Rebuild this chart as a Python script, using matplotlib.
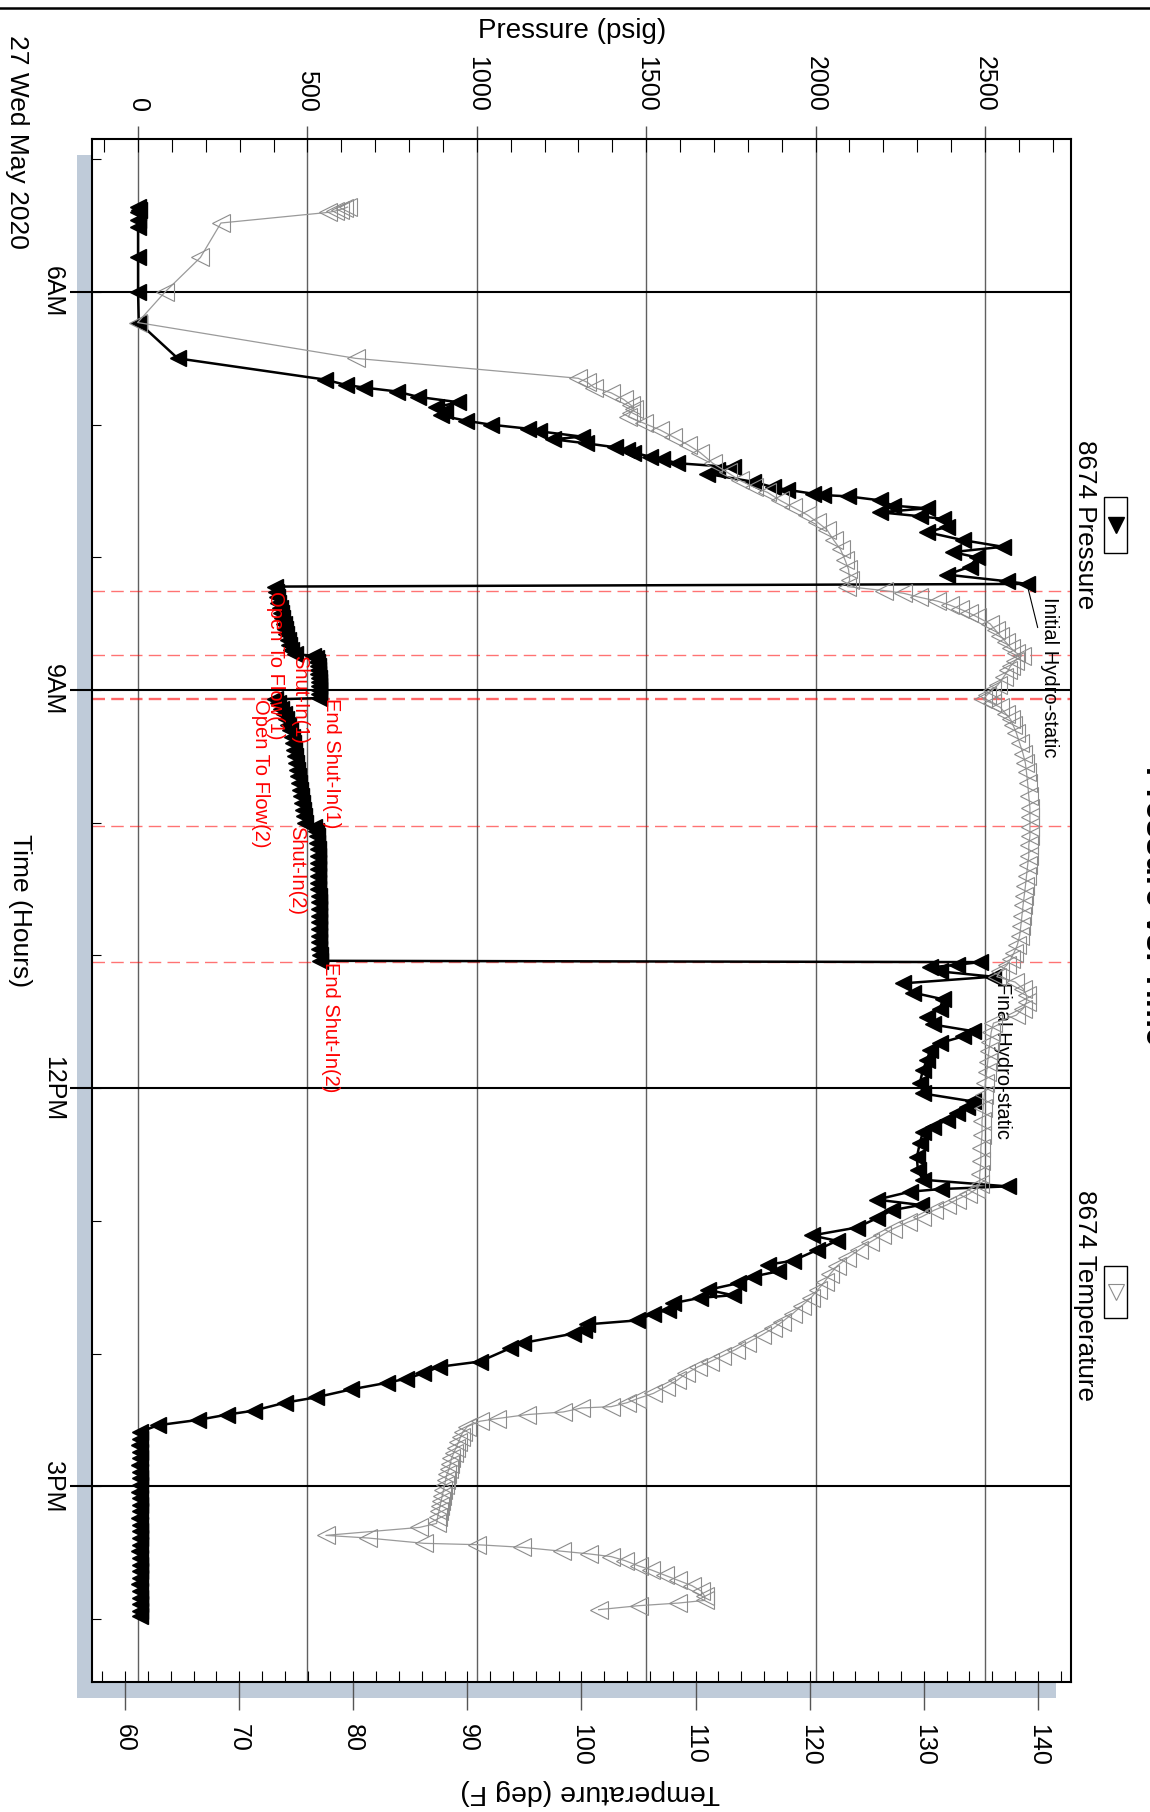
#!/usr/bin/env python3

import matplotlib
matplotlib.use("Agg")
import matplotlib.pyplot as plt
from matplotlib.patches import Rectangle
from matplotlib.lines import Line2D
from matplotlib.ticker import MultipleLocator

plt.rcParams['font.family'] = ['Liberation Sans', 'DejaVu Sans']

# gauge 8674, 27 May 2020 -- time in hours of the day
press_hours = [5.36, 5.38, 5.40, 5.46, 5.51, 5.74, 6.00, 6.23, 6.50,
               6.66, 6.70, 6.72, 6.75, 6.79, 6.83, 6.87, 6.90, 6.93, 6.97,
               7.00, 7.03, 7.05, 7.09, 7.11, 7.14, 7.17, 7.19, 7.21, 7.24,
               7.26, 7.29, 7.32, 7.34, 7.37, 7.43, 7.47, 7.49, 7.52, 7.53,
               7.54, 7.57, 7.61, 7.63, 7.66, 7.69, 7.71, 7.77, 7.81, 7.87,
               7.92, 7.96, 8.00, 8.07, 8.13, 8.18, 8.20,
               8.22, 8.26, 8.30, 8.34, 8.38, 8.42, 8.46, 8.50, 8.54, 8.58,
               8.62, 8.66, 8.70, 8.73,
               8.74, 8.76, 8.79, 8.82, 8.85, 8.88, 8.91, 8.94, 8.97, 9.00,
               9.03, 9.06,
               9.07, 9.10, 9.14, 9.18, 9.22, 9.26, 9.30, 9.35, 9.40, 9.45,
               9.50, 9.55, 9.60, 9.65, 9.70, 9.75, 9.80, 9.85, 9.90, 9.95,
               10.00,
               10.03, 10.06, 10.10, 10.15, 10.20, 10.25, 10.30, 10.35, 10.40,
               10.45, 10.50, 10.55, 10.60, 10.65, 10.70, 10.75, 10.80, 10.85,
               10.90, 10.95, 11.00, 11.04,
               11.05, 11.07, 11.09, 11.12, 11.16, 11.21, 11.28, 11.33, 11.40,
               11.46, 11.52, 11.57, 11.61, 11.66, 11.71, 11.79, 11.86, 11.96,
               12.04, 12.10, 12.14, 12.19, 12.24, 12.29, 12.33, 12.41, 12.52,
               12.62, 12.69, 12.74, 12.76, 12.78, 12.84, 12.88, 12.92, 12.98,
               13.05, 13.11, 13.15, 13.22, 13.30, 13.33, 13.38, 13.42, 13.47,
               13.52, 13.56, 13.58, 13.62, 13.67, 13.70, 13.75, 13.78, 13.82,
               13.85, 13.92, 13.96, 14.06, 14.10, 14.15, 14.19, 14.22, 14.27,
               14.33, 14.37, 14.43, 14.46, 14.50, 14.54, 14.59,
               14.64, 14.69, 14.74, 14.79, 14.84, 14.89, 14.94, 14.99, 15.04,
               15.09, 15.14, 15.19, 15.24, 15.29, 15.34, 15.39, 15.44, 15.49,
               15.54, 15.59, 15.64, 15.69, 15.74, 15.79, 15.84, 15.89, 15.94,
               15.98]
press_psig = [0, 3, 0, 1, 0, 0, 0, 2, 117,
              552, 613, 667, 765, 826, 943, 880, 905, 895, 968,
              1042, 1151, 1185, 1310, 1225, 1322, 1408, 1443, 1461, 1511,
              1547, 1591, 1756, 1709, 1679, 1815, 1874, 1915, 1992, 2022,
              2096, 2190, 2228, 2329, 2190, 2308, 2376, 2388, 2329, 2435,
              2553, 2405, 2476, 2456, 2388, 2565, 2624,
              404, 406, 410, 414, 418, 422, 426, 430, 434, 438,
              442, 446, 451, 462,
              515, 524, 528, 530, 531, 532, 533, 533, 534, 534,
              535, 535,
              405, 413, 422, 430, 437, 443, 448, 453, 457, 461,
              464, 467, 470, 473, 476, 479, 482, 485, 488, 491,
              494,
              520, 526, 528, 529, 530, 530, 531, 531, 532,
              532, 532, 533, 533, 533, 534, 534, 534, 535,
              535, 535, 536, 536,
              2485, 2417, 2338, 2367, 2524, 2258, 2288, 2376, 2367,
              2330, 2346, 2464, 2435, 2367, 2338, 2329, 2317, 2308,
              2317, 2464, 2447, 2417, 2388, 2346, 2317, 2308, 2299,
              2302, 2317, 2567, 2370, 2279, 2181, 2310, 2225, 2181,
              2122, 1989, 2063, 2004, 1933, 1860, 1890, 1815, 1771,
              1682, 1756, 1659, 1580, 1564, 1520, 1473, 1325, 1316,
              1284, 1136, 1098, 1009, 888, 841, 790, 735, 629,
              525, 434, 342, 263, 177, 59, 6,
              5, 4, 6, 5, 4, 5, 6, 5, 4,
              5, 5, 6, 4, 5, 5, 6, 5, 4,
              5, 5, 6, 5, 4, 5, 5, 6, 5,
              5]

temp_hours = [5.36, 5.37, 5.38, 5.39, 5.40, 5.48, 5.74, 6.00, 6.23, 6.50,
              6.65, 6.68, 6.72, 6.76, 6.81, 6.85, 6.88, 6.91, 6.94, 6.99,
              7.04, 7.09, 7.15, 7.21, 7.29, 7.36, 7.42, 7.47, 7.51, 7.57,
              7.62, 7.68, 7.73, 7.79, 7.87, 7.94, 8.02, 8.09, 8.17, 8.22,
              8.25, 8.27, 8.30, 8.33, 8.36, 8.39, 8.42, 8.45, 8.50, 8.55,
              8.59, 8.64, 8.68, 8.72, 8.74, 8.78, 8.82, 8.85, 8.90, 8.96,
              9.00, 9.04, 9.07, 9.10, 9.13, 9.18, 9.22, 9.26, 9.32, 9.40,
              9.48, 9.55, 9.62, 9.70, 9.80, 9.89, 9.96, 10.03, 10.10, 10.17,
              10.25, 10.32, 10.40, 10.48, 10.55, 10.62, 10.70, 10.78, 10.85,
              10.92, 10.98, 11.03, 11.07, 11.12, 11.16, 11.20, 11.25, 11.30,
              11.35, 11.40, 11.45, 11.51, 11.58, 11.65, 11.72, 11.80, 11.88,
              11.96, 12.05, 12.15, 12.25, 12.35, 12.45, 12.55, 12.65, 12.72,
              12.76, 12.80, 12.84, 12.88, 12.92, 12.97, 13.01, 13.06, 13.11,
              13.16, 13.22, 13.28, 13.34, 13.40, 13.46, 13.52, 13.58, 13.64,
              13.70, 13.76, 13.81, 13.86, 13.92, 13.97, 14.02, 14.06, 14.10,
              14.15, 14.20, 14.25, 14.30, 14.34, 14.37, 14.40, 14.41, 14.44,
              14.46, 14.49, 14.51, 14.55, 14.59, 14.63, 14.67, 14.71, 14.75,
              14.79, 14.83, 14.87, 14.91, 14.95, 14.99, 15.03, 15.07, 15.11,
              15.15, 15.19, 15.23, 15.28, 15.31, 15.37, 15.39, 15.43, 15.44,
              15.46, 15.49, 15.51, 15.53, 15.56, 15.60, 15.63, 15.67, 15.71,
              15.75, 15.79, 15.83, 15.86, 15.88, 15.90, 15.93]
temp_degf = [79.5, 79.2, 78.8, 78.4, 77.8, 68.4, 66.6, 63.5, 61.1, 80.2,
             99.7, 100.5, 101.1, 102.6, 103.7, 104.3, 104.6, 104.3, 104.1, 105.5,
             106.9, 108.0, 109.3, 110.4, 111.5, 112.8, 113.9, 115.1, 116.3, 117.4,
             118.5, 119.8, 120.6, 121.5, 122.1, 122.7, 123.1, 123.4, 123.5, 123.3,
             126.5, 128.2, 129.6, 131.2, 132.3, 133.2, 134.0, 134.7, 135.8, 136.3,
             136.7, 137.2, 137.6, 138.1, 138.6, 138.0, 137.6, 137.4, 137.0, 136.5,
             136.0, 135.5, 135.2, 136.0, 136.7, 137.2, 137.6, 137.8, 138.1, 138.4,
             138.7, 138.9, 139.0, 139.1, 139.2, 139.3, 139.3, 139.3, 139.3, 139.2,
             139.2, 139.1, 139.0, 138.9, 138.8, 138.7, 138.6, 138.5, 138.4,
             138.2, 137.9, 137.6, 137.3, 136.7, 136.4, 138.0, 138.7, 139.0,
             139.0, 138.7, 138.1, 136.1, 135.9, 135.8, 135.7, 135.6, 135.5,
             135.4, 135.3, 135.2, 135.1, 135.1, 135.0, 135.0, 134.9, 134.9,
             134.6, 133.9, 132.9, 132.0, 130.9, 129.8, 128.6, 127.3, 126.3,
             125.3, 124.3, 123.3, 122.4, 121.8, 121.3, 120.7, 120.1, 119.3,
             118.5, 117.6, 116.8, 115.8, 114.5, 113.5, 112.3, 111.3, 110.2,
             109.2, 108.4, 107.4, 106.3, 104.9, 104.0, 102.6, 100.0, 98.4,
             95.2, 92.6, 91.1, 90.0, 89.6, 89.4, 89.2, 89.0, 88.8,
             88.6, 88.5, 88.4, 88.2, 88.1, 88.0, 87.9, 87.8, 87.7,
             87.6, 87.5, 87.4, 87.3, 85.8, 77.6, 81.3, 86.2, 90.8,
             94.8, 98.3, 100.7, 102.6, 103.8, 105.0, 106.1, 107.3, 108.5,
             109.7, 110.5, 110.8, 110.8, 108.5, 105.0, 101.5]

event_names = ["Open To Flow(1)", "Shut-In(1)", "End Shut-In(1)",
               "Open To Flow(2)", "Shut-In(2)", "End Shut-In(2)"]
event_hours = [8.256, 8.735, 9.063, 9.070, 10.024, 11.049]
event_label_psig = [407, 478, 570, 360, 469, 567]

time_ticks = [6, 9, 12, 15]
time_labels = ["6AM", "9AM", "12PM", "3PM"]
press_ticks = [0, 500, 1000, 1500, 2000, 2500]
temp_ticks = [60, 70, 80, 90, 100, 110, 120, 130, 140]

W, H = 1150, 1812


def fx(px):
    return px / W


def fy(py):
    return 1 - py / H


def main():
    fig = plt.figure(figsize=(W / 100, H / 100), dpi=100)

    # shadow behind the plot frame
    fig.add_artist(Rectangle((fx(77), fy(1698)), 979 / W, 1543 / H,
                             transform=fig.transFigure, facecolor='#bfcbd9',
                             edgecolor='none', zorder=-5))
    fig.add_artist(Line2D([0, 1], [fy(8), fy(8)], transform=fig.transFigure,
                          color='black', lw=1.8))

    ax = fig.add_axes([fx(92), fy(1682), 979 / W, 1543 / H])
    ax.set_facecolor('white')
    ax2 = ax.twiny()

    ax.set_xlim(-136, 2754)
    ax.set_ylim(16.475, 4.847)
    ax2.set_xlim(57.1, 142.9)

    ax.xaxis.tick_top()
    ax.xaxis.set_label_position('top')
    ax2.xaxis.tick_bottom()
    ax2.xaxis.set_label_position('bottom')

    # pressure axis (top)
    ax.set_xticks(press_ticks, [str(v) for v in press_ticks], rotation=270, fontsize=18)
    ax.xaxis.set_minor_locator(MultipleLocator(100))
    ax.xaxis.remove_overlapping_locs = False
    ax.tick_params(axis='x', which='major', direction='out', length=9.4,
                   width=1, color='#555555', pad=10)
    ax.tick_params(axis='x', which='minor', direction='in', length=9.4, width=0.8)

    # time axis (left)
    ax.set_yticks(time_ticks, time_labels, rotation=270, va='center', fontsize=18)
    ax.yaxis.set_minor_locator(MultipleLocator(1))
    ax.yaxis.remove_overlapping_locs = False
    ax.tick_params(axis='y', which='major', direction='out', length=15.8,
                   width=1.5, color='black', pad=3.8)
    ax.tick_params(axis='y', which='minor', direction='in', length=6.5, width=0.8)

    # temperature axis (bottom)
    ax2.set_xticks(temp_ticks, [str(v) for v in temp_ticks], rotation=270, fontsize=18)
    ax2.xaxis.set_minor_locator(MultipleLocator(2))
    ax2.xaxis.remove_overlapping_locs = False
    ax2.tick_params(axis='x', which='major', direction='out', length=20.5,
                    width=1, color='#555555', pad=9.4)
    ax2.tick_params(axis='x', which='minor', direction='in', length=8, width=0.8)

    ax.grid(axis='x', which='major', color='#606060', lw=1)
    ax.grid(axis='y', which='major', color='black', lw=1.5)
    ax.set_axisbelow(True)
    for sp in ax.spines.values():
        sp.set_linewidth(1.5)
    for sp in ax2.spines.values():
        sp.set_visible(False)

    ax.set_xlabel("Pressure (psig)", fontsize=20)
    ax.xaxis.set_label_coords(0.490, 1.070)
    ax.xaxis.label.set_va('center')
    ax.set_ylabel("Time (Hours)", rotation=270, fontsize=19, va='center', ha='center')
    ax.yaxis.set_label_coords(-0.0735, 0.5)
    ax2.set_xlabel("Temperature (deg F)", rotation=180, fontsize=20.5,
                   va='center', ha='center')
    ax2.xaxis.set_label_coords(0.5087, -0.0713)

    # test events
    for name, t, p in zip(event_names, event_hours, event_label_psig):
        ax.axhline(t, color='red', alpha=0.55, lw=1, ls=(0, (9, 4.5)), zorder=1.5)
        ax.text(p, t, name, color='red', rotation=270, ha='center', va='top',
                fontsize=14.5, zorder=4)

    ax.plot(press_psig, press_hours, color='black', lw=1.8, marker='<', ms=12,
            mfc='black', mec='black', zorder=3)
    ax2.plot(temp_degf, temp_hours, color='#9a9a9a', lw=0.9, marker='<', ms=12.5,
             mfc='none', mec='#8c8c8c', mew=0.8)

    arrow = dict(arrowstyle='-', color='black', lw=0.8, shrinkA=0, shrinkB=4)
    ax.annotate("Initial Hydro-static", xy=(2624, 8.20), xytext=(2692, 8.30),
                rotation=270, ha='center', va='top', fontsize=14.5,
                arrowprops=arrow, annotation_clip=False, zorder=5)
    ax.annotate("Final Hydro-static", xy=(2524, 11.16), xytext=(2553, 11.20),
                rotation=270, ha='center', va='top', fontsize=14.5,
                arrowprops=arrow, annotation_clip=False, zorder=5)

    fig.text(fx(17), fy(35), "27 Wed May 2020", rotation=270, ha='center',
             va='top', fontsize=19)
    fig.text(fx(1139), fy(905), "Pressure vs. Time", rotation=270, ha='left',
             va='center', fontsize=23.5, fontweight='bold')

    # legend, drawn by hand because the whole chart is turned on its side
    fig.text(fx(1085), fy(525), "8674 Pressure", rotation=270, ha='center',
             va='center', fontsize=18.7)
    fig.add_artist(Rectangle((fx(1104), fy(553)), 23 / W, 56 / H,
                             transform=fig.transFigure, facecolor='white',
                             edgecolor='black', lw=1))
    fig.add_artist(Line2D([fx(1115.5)], [fy(525)], transform=fig.transFigure,
                          marker='v', ms=11, color='black', ls='none'))
    fig.text(fx(1085), fy(1295), "8674 Temperature", rotation=270, ha='center',
             va='center', fontsize=18.7)
    fig.add_artist(Rectangle((fx(1104), fy(1318)), 23 / W, 52 / H,
                             transform=fig.transFigure, facecolor='white',
                             edgecolor='black', lw=1))
    fig.add_artist(Line2D([fx(1115.5)], [fy(1292)], transform=fig.transFigure,
                          marker='v', ms=11, mfc='none', mec='#8c8c8c', mew=0.8,
                          ls='none'))

    fig.savefig("out.png", dpi=100)


if __name__ == "__main__":
    main()
